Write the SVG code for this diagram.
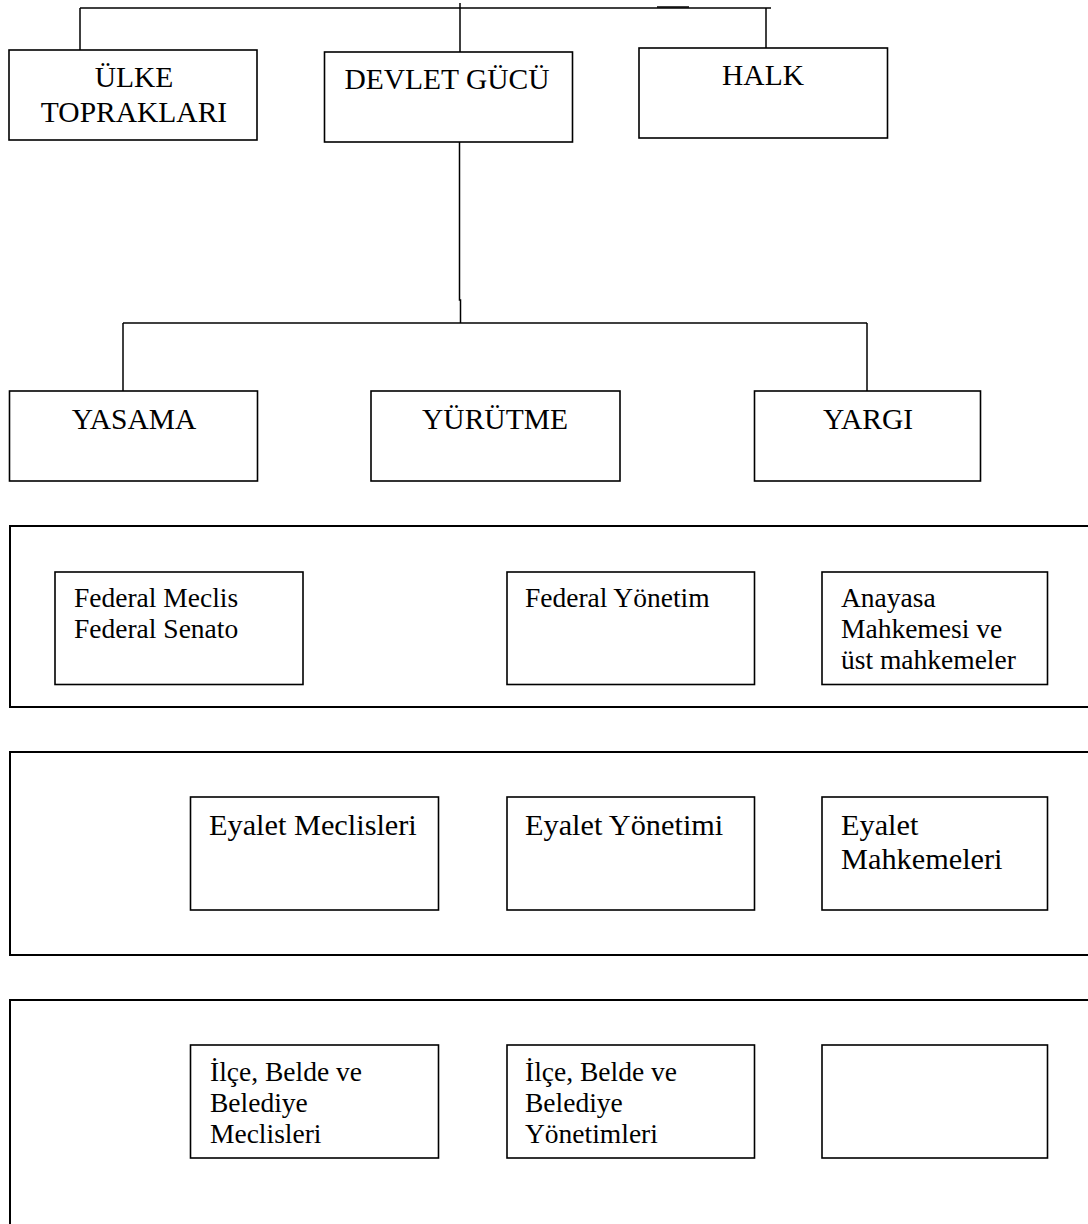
<svg xmlns="http://www.w3.org/2000/svg" width="1088" height="1224" viewBox="0 0 1088 1224">
  <style>
    .box { fill: #ffffff; stroke: #000000; stroke-width: 1.6; }
    .panel { fill: none; stroke: #000000; stroke-width: 2; }
    .conn { fill: none; stroke: #000000; stroke-width: 1.5; }
    text { font-family: "Liberation Serif", "Times New Roman", serif; fill: #000000; }
    .lg { font-size: 29.5px; text-anchor: middle; }
    .md { font-size: 27.5px; }
    .bg { font-size: 30.3px; }
  </style>
  <rect width="1088" height="1224" fill="#ffffff"/>

  <g id="connectors">
    <path class="conn" d="M80,8 H771"/>
    <path class="conn" d="M657,7 H689" stroke-width="1"/>
    <path class="conn" d="M80,8 V50"/>
    <path class="conn" d="M460,3 V52"/>
    <path class="conn" d="M766,8 V48"/>
    <path class="conn" d="M459.5,142 V300 H460.5 V323"/>
    <path class="conn" d="M123,323 H867"/>
    <path class="conn" d="M123,323 V391"/>
    <path class="conn" d="M867,323 V391"/>
  </g>

  <g id="panels">
    <path class="panel" d="M1090,526 H10 V707 H1090"/>
    <path class="panel" d="M1090,752 H10 V955 H1090"/>
    <path class="panel" d="M1090,1000 H10 V1226"/>
  </g>

  <g id="node-ulke">
    <rect class="box" x="9" y="50" width="248" height="90"/>
    <text class="lg" x="134" y="87">ÜLKE</text>
    <text class="lg" x="134" y="122">TOPRAKLARI</text>
  </g>
  <g id="node-devlet">
    <rect class="box" x="324.5" y="52" width="248" height="90"/>
    <text class="lg" x="447" y="89">DEVLET GÜCÜ</text>
  </g>
  <g id="node-halk">
    <rect class="box" x="639" y="48" width="248.5" height="90"/>
    <text class="lg" x="763" y="85">HALK</text>
  </g>

  <g id="node-yasama">
    <rect class="box" x="9.5" y="391" width="248" height="90"/>
    <text class="lg" x="134" y="429">YASAMA</text>
  </g>
  <g id="node-yurutme">
    <rect class="box" x="371" y="391" width="249" height="90"/>
    <text class="lg" x="495" y="429">YÜRÜTME</text>
  </g>
  <g id="node-yargi">
    <rect class="box" x="754.5" y="391" width="226" height="90"/>
    <text class="lg" x="868" y="429">YARGI</text>
  </g>

  <g id="node-federal-meclis">
    <rect class="box" x="55" y="572" width="248" height="112.5"/>
    <text class="md" x="74" y="607">Federal Meclis</text>
    <text class="md" x="74" y="638">Federal Senato</text>
  </g>
  <g id="node-federal-yonetim">
    <rect class="box" x="507" y="572" width="247.5" height="112.5"/>
    <text class="md" x="525" y="607">Federal Yönetim</text>
  </g>
  <g id="node-anayasa">
    <rect class="box" x="822" y="572" width="225.5" height="112.5"/>
    <text class="md" x="841" y="607">Anayasa</text>
    <text class="md" x="841" y="638">Mahkemesi ve</text>
    <text class="md" x="841" y="669">üst mahkemeler</text>
  </g>

  <g id="node-eyalet-meclisleri">
    <rect class="box" x="190.5" y="797" width="248" height="113"/>
    <text class="bg" x="209" y="835">Eyalet Meclisleri</text>
  </g>
  <g id="node-eyalet-yonetimi">
    <rect class="box" x="507" y="797" width="247.5" height="113"/>
    <text class="bg" x="525" y="835">Eyalet Yönetimi</text>
  </g>
  <g id="node-eyalet-mahkemeleri">
    <rect class="box" x="822" y="797" width="225.5" height="113"/>
    <text class="bg" x="841" y="835">Eyalet</text>
    <text class="bg" x="841" y="869">Mahkemeleri</text>
  </g>

  <g id="node-ilce-meclisleri">
    <rect class="box" x="190.5" y="1045" width="248" height="113"/>
    <text class="md" x="210" y="1081">İlçe, Belde ve</text>
    <text class="md" x="210" y="1112">Belediye</text>
    <text class="md" x="210" y="1143">Meclisleri</text>
  </g>
  <g id="node-ilce-yonetimleri">
    <rect class="box" x="507" y="1045" width="247.5" height="113"/>
    <text class="md" x="525" y="1081">İlçe, Belde ve</text>
    <text class="md" x="525" y="1112">Belediye</text>
    <text class="md" x="525" y="1143">Yönetimleri</text>
  </g>
  <g id="node-empty">
    <rect class="box" x="822" y="1045" width="225.5" height="113"/>
  </g>
</svg>
